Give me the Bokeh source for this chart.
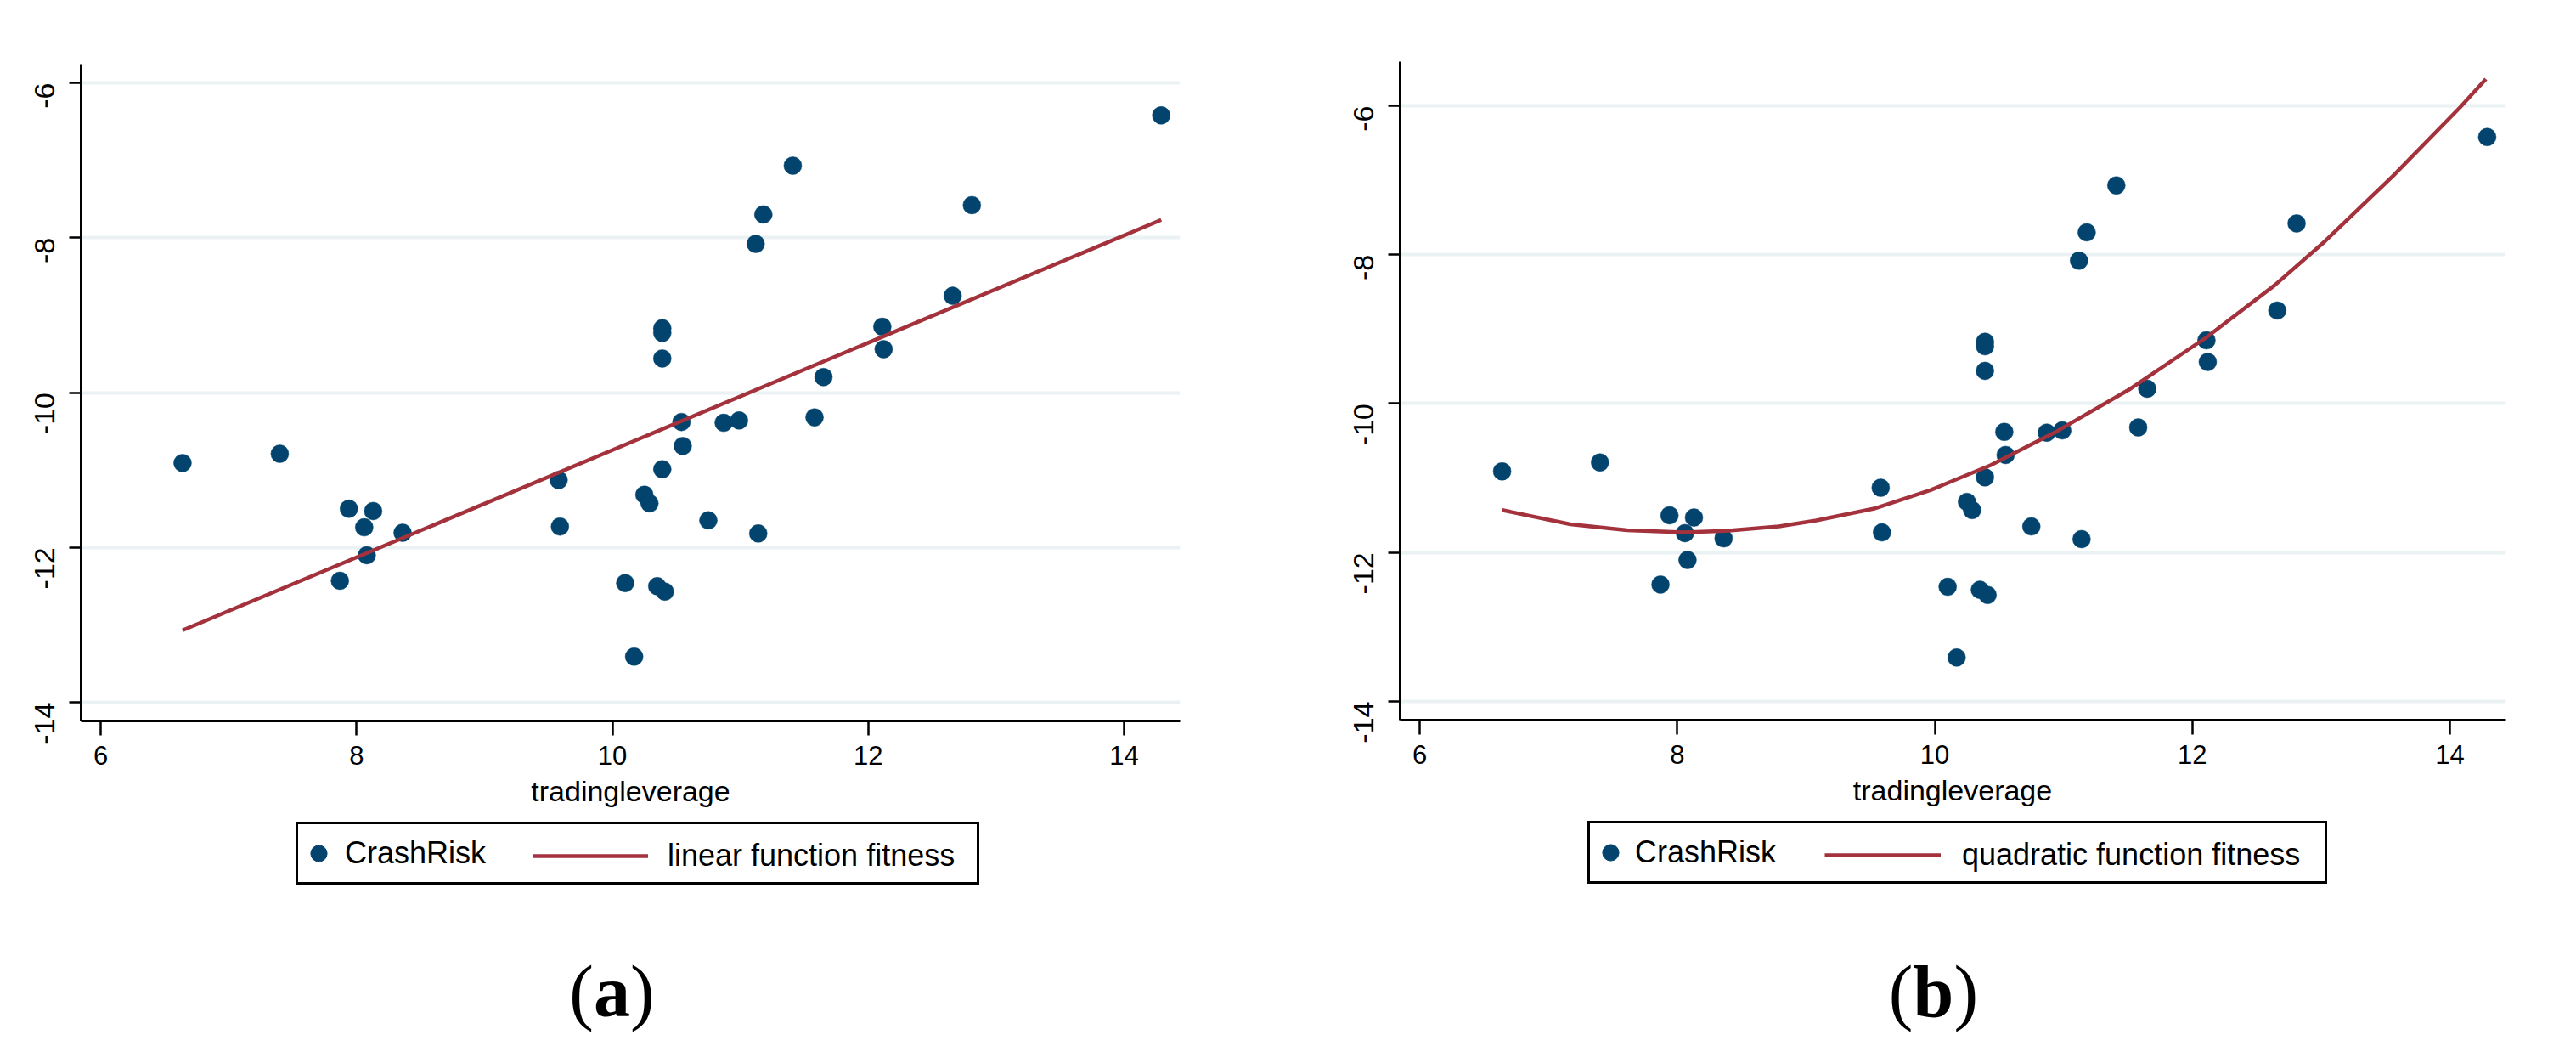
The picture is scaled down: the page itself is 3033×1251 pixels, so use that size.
import math
from bokeh.plotting import figure
from bokeh.models import FixedTicker, Legend, LegendItem, Label, ColumnDataSource, Range1d
from bokeh.layouts import row, column
from bokeh.embed import file_html
from bokeh.resources import INLINE

# ---------------- data ----------------
trading_leverage = [6.64, 7.40, 7.94, 8.13, 8.06, 8.36, 8.08, 7.87, 9.58, 9.59,
                    10.10, 10.17, 10.25, 10.29, 10.35, 10.41, 10.39, 10.39, 10.39, 10.39,
                    10.54, 10.55, 10.75, 10.87, 10.99, 11.12, 11.18, 11.14, 11.41, 11.58,
                    11.65, 12.11, 12.12, 12.66, 12.81, 14.29]
crash_risk = [-10.91, -10.79, -11.50, -11.53, -11.74, -11.81, -12.10, -12.43, -11.13, -11.73,
              -12.46, -13.41, -11.32, -11.43, -12.50, -12.57, -9.17, -9.23, -9.56, -10.99,
              -10.38, -10.69, -11.65, -10.39, -10.36, -8.08, -7.70, -11.82, -7.07, -10.32,
              -9.80, -9.15, -9.44, -8.75, -7.58, -6.42]

linear_fit_x = [6.64, 14.29]
linear_fit_y = [-13.07, -7.77]

quad_fit_x = [6.64, 7.17, 7.61, 8.05, 8.38, 8.79, 9.08, 9.53, 9.97, 10.43,
              10.95, 11.52, 12.11, 12.64, 13.03, 13.56, 14.08, 14.28]
quad_fit_y = [-11.43, -11.62, -11.70, -11.73, -11.71, -11.65, -11.57, -11.41, -11.16, -10.83,
              -10.37, -9.80, -9.11, -8.41, -7.82, -6.94, -6.02, -5.64]

x_ticks = [6, 8, 10, 12, 14]
x_tick_labels = ["6", "8", "10", "12", "14"]
y_ticks = [-14, -12, -10, -8, -6]
y_tick_labels = ["-14", "-12", "-10", "-8", "-6"]

x_title = "tradingleverage"
scatter_label = "CrashRisk"
fit_labels = ["linear function fitness", "quadratic function fitness"]
captions = ["a", "b"]

DOT = "#03446e"
FIT = "#a3323c"
GRID = "#eaf2f3"
SANS = "Liberation Sans"
SERIF = "Liberation Serif"

LEG_H = 272      # height of the legend / caption strip below each panel
OFF = 5000       # strip ranges sit far away from the data, so the legend handles stay hidden

panels = [
    dict(fit_x=linear_fit_x, fit_y=linear_fit_y, fit_label=fit_labels[0], caption=captions[0],
         width=1540, fw=1294, fh=773, xr=(5.847, 14.438), yr=(-14.241, -5.759),
         bl=95, br=151, bt=75, bb=115,
         legA=(348, 194), legA_standoff=7, legA_width=744,
         legB=(627, 194), legB_gw=136, legB_standoff=23,
         cap_x=625, cap_w=43),
    dict(fit_x=quad_fit_x, fit_y=quad_fit_y, fit_label=fit_labels[1], caption=captions[1],
         width=1477, fw=1301, fh=775, xr=(5.848, 14.429), yr=(-14.251, -5.407),
         bl=108, br=68, bt=72, bb=116,
         legA=(329, 195), legA_standoff=5, legA_width=812,
         legB=(608, 195), legB_gw=137, legB_standoff=25,
         cap_x=628, cap_w=48),
]
CAP_BASE = 69   # caption baseline, px above the strip bottom


def style_axes(p):
    p.xgrid.grid_line_color = None
    p.ygrid.grid_line_color = GRID
    p.ygrid.grid_line_width = 4
    p.ygrid.ticker = FixedTicker(ticks=y_ticks)

    xa = p.xaxis[0]
    xa.ticker = FixedTicker(ticks=x_ticks)
    xa.major_label_overrides = {t: l for t, l in zip(x_ticks, x_tick_labels)}
    xa.axis_label = x_title
    xa.axis_label_text_font = SANS
    xa.axis_label_text_font_style = "normal"
    xa.axis_label_text_font_size = "34px"
    xa.axis_label_text_color = "black"
    xa.axis_label_standoff = 9
    xa.major_label_text_font = SANS
    xa.major_label_text_font_size = "31px"
    xa.major_label_text_color = "black"
    xa.major_label_standoff = 12
    xa.axis_line_width = 3
    xa.axis_line_color = "black"
    xa.major_tick_line_width = 2.5
    xa.major_tick_out = 17
    xa.major_tick_in = 0
    xa.minor_tick_line_color = None

    ya = p.yaxis[0]
    ya.ticker = FixedTicker(ticks=y_ticks)
    ya.major_label_overrides = {t: l for t, l in zip(y_ticks, y_tick_labels)}
    ya.major_label_orientation = math.pi / 2
    ya.major_label_text_font = SANS
    ya.major_label_text_font_size = "34px"
    ya.major_label_text_color = "black"
    ya.major_label_standoff = 29
    ya.axis_line_width = 3
    ya.axis_line_color = "black"
    ya.major_tick_line_width = 2.5
    ya.major_tick_out = 14
    ya.major_tick_in = 0
    ya.minor_tick_line_color = None


def make_panel(cfg):
    src = ColumnDataSource(dict(x=trading_leverage, y=crash_risk))
    fit_src = ColumnDataSource(dict(x=cfg["fit_x"], y=cfg["fit_y"]))

    # ---- main plot ----
    p = figure(frame_width=cfg["fw"], frame_height=cfg["fh"],
               x_range=cfg["xr"], y_range=cfg["yr"],
               min_border_left=cfg["bl"], min_border_right=cfg["br"],
               min_border_top=cfg["bt"], min_border_bottom=cfg["bb"],
               output_backend="svg", toolbar_location=None,
               background_fill_color="white", border_fill_color="white")
    p.outline_line_color = None
    p.scatter("x", "y", source=src, size=21, fill_color=DOT, line_color=DOT, line_width=0.5)
    p.line("x", "y", source=fit_src, line_color=FIT, line_width=4.5, line_join="round")
    style_axes(p)

    # ---- legend + caption strip ----
    W = cfg["width"]
    q = figure(frame_width=W, frame_height=LEG_H,
               x_range=Range1d(OFF, OFF + W), y_range=Range1d(OFF, OFF + LEG_H),
               min_border=0, x_axis_location=None, y_axis_location=None,
               output_backend="svg", toolbar_location=None,
               background_fill_color="white", border_fill_color="white")
    q.outline_line_color = None
    q.grid.visible = False
    # same series, used only as legend handles (outside this strip's ranges)
    pts_h = q.scatter("x", "y", source=src, size=21, fill_color=DOT, line_color=DOT)
    fit_h = q.line("x", "y", source=fit_src, line_color=FIT, line_width=4.5)

    legA = Legend(items=[LegendItem(label=scatter_label, renderers=[pts_h])],
                  location=cfg["legA"], orientation="horizontal",
                  glyph_width=48, glyph_height=68, label_height=68,
                  label_width=cfg["legA_width"], label_standoff=cfg["legA_standoff"],
                  padding=0, margin=0, spacing=0,
                  label_text_font=SANS, label_text_font_size="36px", label_text_color="black",
                  border_line_color="black", border_line_width=3, border_line_alpha=1.0,
                  background_fill_color="white", background_fill_alpha=1.0)
    legB = Legend(items=[LegendItem(label=cfg["fit_label"], renderers=[fit_h])],
                  location=cfg["legB"], orientation="horizontal",
                  glyph_width=cfg["legB_gw"], glyph_height=68, label_height=68,
                  label_standoff=cfg["legB_standoff"],
                  padding=0, margin=0, spacing=0,
                  label_text_font=SANS, label_text_font_size="36px", label_text_color="black",
                  border_line_color=None, background_fill_alpha=0.0)
    q.add_layout(legA)
    q.add_layout(legB)

    cx = cfg["cap_x"]
    hw = cfg["cap_w"] / 2.0
    common = dict(y=CAP_BASE, x_units="screen", y_units="screen",
                  text_font=SERIF, text_font_size="86px", text_color="black",
                  text_baseline="alphabetic")
    q.add_layout(Label(x=cx - hw, text="(", text_align="right", **common))
    q.add_layout(Label(x=cx, text=cfg["caption"], text_align="center",
                       text_font_style="bold", **common))
    q.add_layout(Label(x=cx + hw, text=")", text_align="left", **common))

    return column(p, q, spacing=0)


cols = [make_panel(c) for c in panels]
layout = row(*cols, spacing=0)
layout.styles = {"background-color": "white"}

open("out.html", "w").write(file_html(layout, INLINE))
